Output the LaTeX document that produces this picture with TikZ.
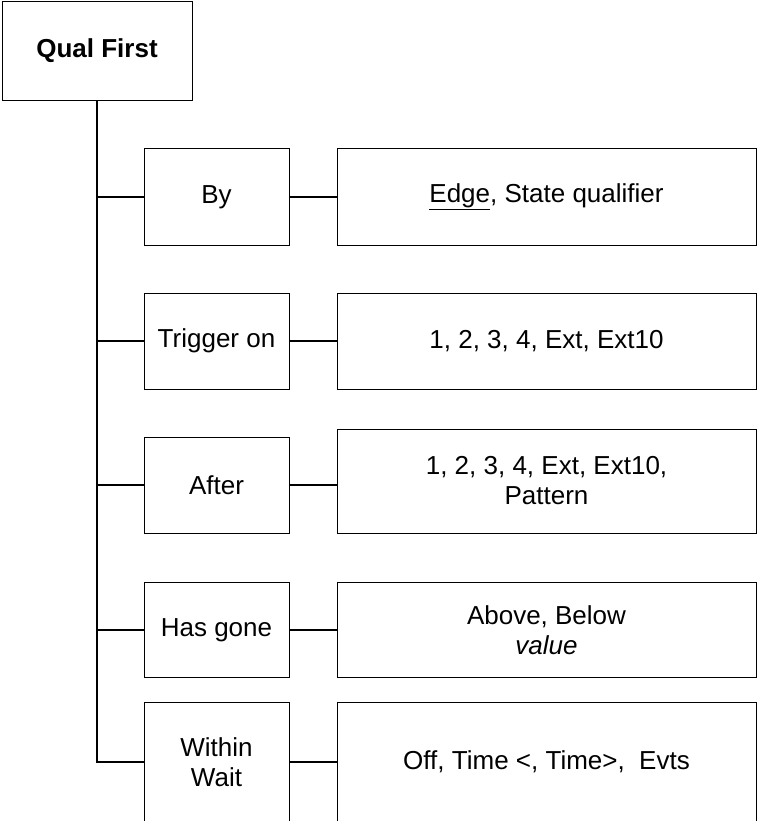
\documentclass[tikz,border=0pt]{standalone}
\usepackage{fontspec}
\setmainfont{Liberation Sans}
\begin{document}
\begin{tikzpicture}[x=1pt,y=-1pt,
  box/.style={draw=black, line width=1pt, inner sep=0pt, outer sep=0pt, align=center,
    font=\fontsize{26}{30}\selectfont},
  lbox/.style={box, minimum width=145pt},
  rbox/.style={box, minimum width=419pt},
  conn/.style={draw=black, line width=1.7pt}]
\useasboundingbox (0,0) rectangle (757,821);
\node[box, minimum width=190pt, minimum height=99pt, font=\fontsize{26}{30}\selectfont\bfseries] (q) at (97,51) {Qual First};
% left column
\node[lbox, minimum height=96pt] (by) at (216.5,197) {By};
\node[lbox, minimum height=96pt] (trig) at (216.5,341) {Trigger on};
\node[lbox, minimum height=96pt] (aft) at (216.5,485) {After};
\node[lbox, minimum height=95pt] (has) at (216.5,630) {Has gone};
\node[lbox, minimum height=120pt] (within) at (216.5,762) {Within\\Wait};
% right column
\node[rbox, minimum height=96pt] (rby) at (546.5,197) {\underline{Edge}, State qualifier};
\node[rbox, minimum height=96pt] (rtrig) at (546.5,341) {1, 2, 3, 4, Ext, Ext10};
\node[rbox, minimum height=104pt] (raft) at (546.5,481) {1, 2, 3, 4, Ext, Ext10,\\Pattern};
\node[rbox, minimum height=95pt] (rhas) at (546.5,630) {Above, Below\\\textit{value}};
\node[rbox, minimum height=120pt] (rwithin) at (546.5,762) {Off, Time <, Time>,~ Evts};
% trunk
\draw[conn] (q.south) -- (q.south |- within.west) -- (within.west);
\foreach \n in {by,trig,aft,has}{
  \draw[conn] (q.south |- \n.west) -- (\n.west);
}
\foreach \a/\b in {by/rby,trig/rtrig,aft/raft,has/rhas,within/rwithin}{
  \draw[conn] (\a.east) -- (\a.east -| \b.west);
}
\end{tikzpicture}
\end{document}
